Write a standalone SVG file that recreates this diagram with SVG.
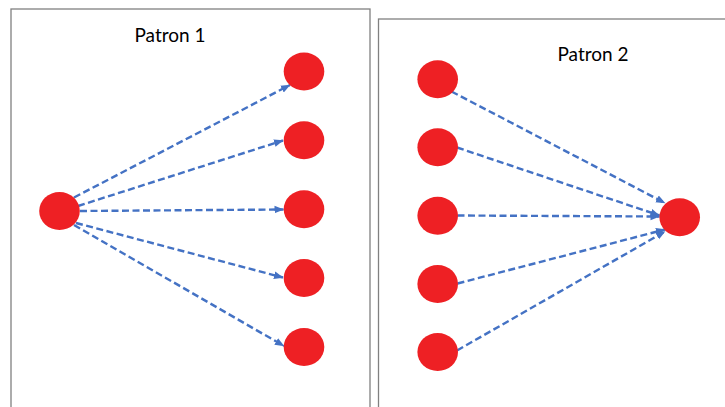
<svg xmlns="http://www.w3.org/2000/svg" width="725" height="407" viewBox="0 0 725 407">
<defs>
<style>
.frame{fill:#fff;stroke:#808080;stroke-width:1.3}
.node{fill:#EE2024}
.title{font-family:Lato,"Liberation Sans",sans-serif;font-size:19px;fill:#000;text-anchor:middle}
.edge{fill:none;stroke:#4472C4;stroke-width:2.4;stroke-dasharray:7 3.5;marker-end:url(#arr)}
</style>
<marker id="arr" markerUnits="userSpaceOnUse" markerWidth="10" markerHeight="10" viewBox="0 0 10 10" refX="9" refY="5" orient="auto">
<path d="M0,1.2 L9.5,5 L0,8.8 Z" fill="#4472C4"/>
</marker>
</defs>
<rect width="725" height="407" fill="#fff"/>
<g id="panel1">
<rect class="frame" x="11" y="9" width="359" height="410"/>
<text class="title" x="170" y="42">Patron 1</text>
</g>
<g id="panel2">
<rect class="frame" x="378.5" y="19" width="360" height="400"/>
<text class="title" x="593" y="61">Patron 2</text>
</g>
<g id="connectors">
<path class="edge" d="M74,197.5 L290,85"/>
<path class="edge" d="M78,206 L283,140.5"/>
<path class="edge" d="M80,211 L283.5,209.5"/>
<path class="edge" d="M76,223 L283,277.5"/>
<path class="edge" d="M74,225 L284,346"/>
<path class="edge" d="M451.5,91.5 L665,203"/>
<path class="edge" d="M457,147.5 L659.5,215.5"/>
<path class="edge" d="M457.5,215.5 L659.5,216.5"/>
<path class="edge" d="M457.5,283.5 L665,229.5"/>
<path class="edge" d="M457,350.5 L665,231.5"/>
</g>
<g id="n_src1"><ellipse class="node" cx="59.5" cy="211" rx="20.3" ry="19"/></g>
<g id="n_t1"><ellipse class="node" cx="304" cy="71.5" rx="20.3" ry="19"/></g>
<g id="n_t2"><ellipse class="node" cx="304" cy="140.3" rx="20.3" ry="19"/></g>
<g id="n_t3"><ellipse class="node" cx="304" cy="209.3" rx="20.3" ry="19"/></g>
<g id="n_t4"><ellipse class="node" cx="304" cy="278" rx="20.3" ry="19"/></g>
<g id="n_t5"><ellipse class="node" cx="304" cy="347" rx="20.3" ry="19"/></g>
<g id="n_s1"><ellipse class="node" cx="437.7" cy="79.3" rx="20.3" ry="19"/></g>
<g id="n_s2"><ellipse class="node" cx="437.7" cy="147.3" rx="20.3" ry="19"/></g>
<g id="n_s3"><ellipse class="node" cx="437.7" cy="215.7" rx="20.3" ry="19"/></g>
<g id="n_s4"><ellipse class="node" cx="437.7" cy="284" rx="20.3" ry="19"/></g>
<g id="n_s5"><ellipse class="node" cx="437.7" cy="352" rx="20.3" ry="19"/></g>
<g id="n_dst2"><ellipse class="node" cx="679.7" cy="217.3" rx="20.3" ry="19"/></g>
</svg>
